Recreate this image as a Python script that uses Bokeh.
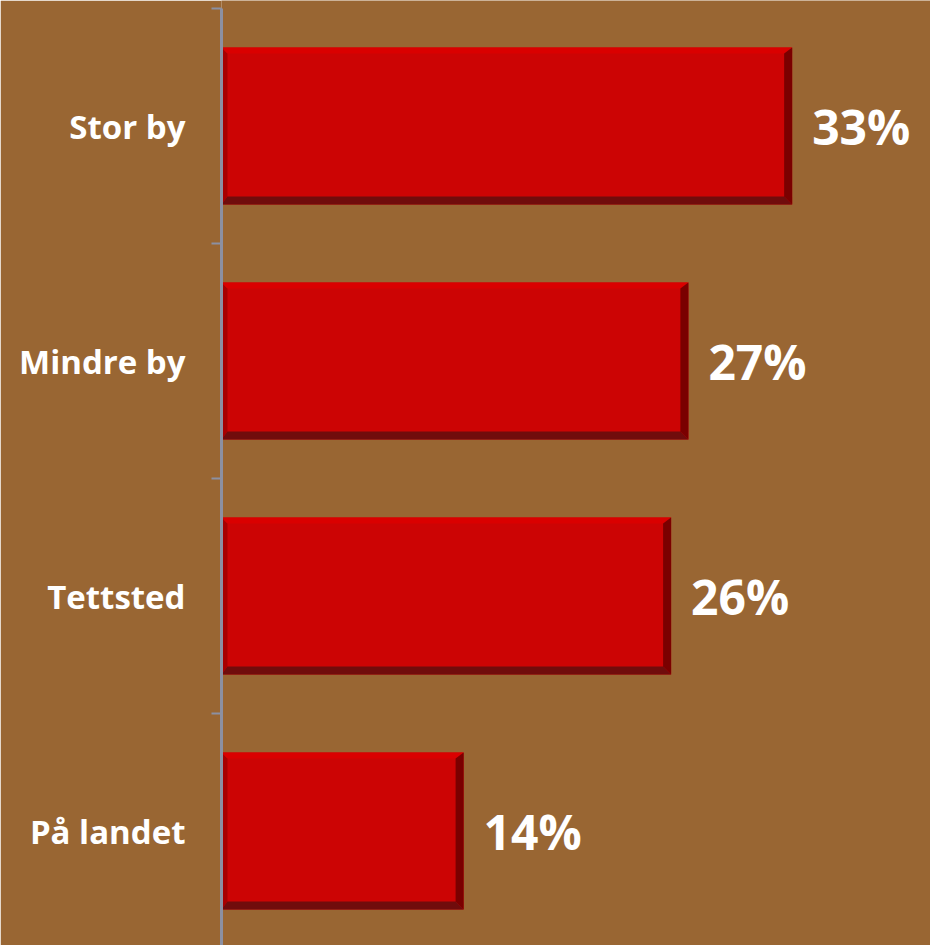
from bokeh.plotting import figure
from bokeh.models import Range1d, FixedTicker, ColumnDataSource
from bokeh.core.properties import value
from bokeh.embed import file_html
from bokeh.resources import INLINE

# ---- data ----
categories = ["Stor by", "Mindre by", "Tettsted", "På landet"]
percent = [33, 27, 26, 14]
labels = ["33%", "27%", "26%", "14%"]

BG = "#996633"
W, H = 930, 945
LEFT = 221
X_MAX = 41.0
PX_PER_CAT = 235.0
n = len(categories)
Y_MAX = n + 8 / PX_PER_CAT
Y_MIN = Y_MAX - H / PX_PER_CAT

centers = [n - i - 0.5 for i in range(n)]  # top to bottom
bar_h = 0.668

p = figure(width=W, height=H, output_backend="svg", toolbar_location=None,
           x_range=Range1d(0, X_MAX), y_range=Range1d(Y_MIN, Y_MAX),
           min_border_left=LEFT, min_border_right=0, min_border_top=0, min_border_bottom=0,
           background_fill_color=BG, border_fill_color=BG, outline_line_color=None)
p.xaxis.visible = False
p.grid.visible = False

# pixel scales derived from layout
px_x = (W - LEFT) / X_MAX
px_y = H / (Y_MAX - Y_MIN)
bl, bt, br, bb = 6 / px_x, 6 / px_y, 8 / px_x, 8 / px_y

y0 = [c - bar_h / 2 for c in centers]
y1 = [c + bar_h / 2 for c in centers]
x0 = [0] * n

src = ColumnDataSource(dict(cat=categories, v=percent, c=centers, lab=labels,
                            y0=y0, y1=y1, x0=x0))
p.quad(left="x0", right="v", bottom="y0", top="y1", source=src,
       fill_color="#CC0404", line_color=None)

# bevel strips
lx, ly, tx, ty, rx, ry, bxs, bys = [], [], [], [], [], [], [], []
for v, a, b in zip(percent, y0, y1):
    lx.append([0, bl, bl, 0]); ly.append([b, b - bt, a + bb, a])
    tx.append([0, v, v - br, bl]); ty.append([b, b, b - bt, b - bt])
    rx.append([v, v, v - br, v - br]); ry.append([b, a, a + bb, b - bt])
    bxs.append([0, v, v - br, bl]); bys.append([a, a, a + bb, a + bb])
p.patches(lx, ly, fill_color="#A80000", line_color=None)
p.patches(tx, ty, fill_color="#DA0000", line_color=None)
p.patches(rx, ry, fill_color="#7A0000", line_color=None)
p.patches(bxs, bys, fill_color="#700C0C", line_color=None)

# value labels
p.text(x="v", y="c", text="lab", source=src, x_offset=20,
       text_baseline="middle", text_align="left", text_color="white",
       text_font=value("Open Sans"), text_font_style="bold", text_font_size="48px")

# y axis: labels at centers, ticks at boundaries
ya = p.yaxis[0]
ya.bounds = (Y_MIN, n)
ya.ticker = FixedTicker(ticks=centers, minor_ticks=list(range(n + 1)))
ya.major_label_overrides = {c: cat for c, cat in zip(centers, categories)}
ya.major_tick_out = 0
ya.major_tick_in = 0
ya.minor_tick_out = 10
ya.minor_tick_in = 0
ya.minor_tick_line_color = "#8C90A2"
ya.minor_tick_line_width = 2
ya.axis_line_color = "#8C90A2"
ya.axis_line_width = 3
ya.major_label_standoff = 26
ya.major_label_text_color = "white"
ya.major_label_text_font = "Open Sans"
ya.major_label_text_font_style = "bold"
ya.major_label_text_font_size = "33px"

open("out.html", "w").write(file_html(p, INLINE))
